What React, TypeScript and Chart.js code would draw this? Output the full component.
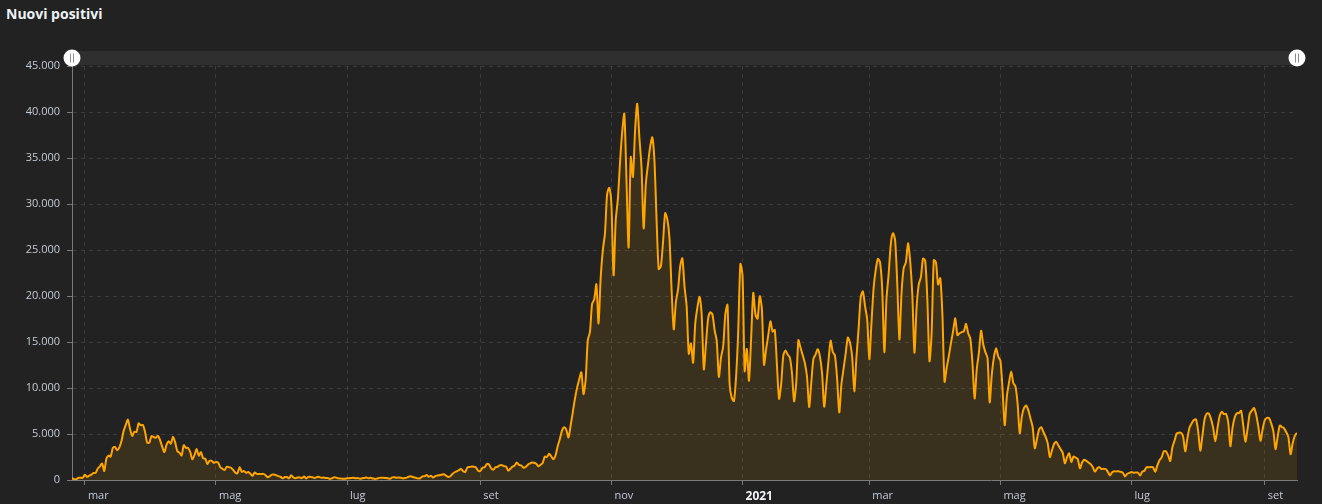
import React, { useEffect, useRef } from "react";
import { Chart, registerables } from "chart.js";

Chart.register(...registerables);

// Daily "nuovi positivi", one value per day from 24 Feb 2020 to 16 Sep 2021
const feb2020 = [221, 93, 78, 250, 238, 240];
const mar2020 = [566, 342, 466, 587, 769, 778, 1247, 1492, 1797, 977, 2313, 2651, 2547, 3497, 3590, 3233, 3526, 4207, 5322, 5986, 6557, 5560, 4789, 5249, 5210, 6153, 5959, 5974, 5217, 4050, 4053];
const apr2020 = [4782, 4668, 4585, 4805, 4316, 3599, 3039, 3836, 4204, 3951, 4694, 4092, 3153, 2972, 2667, 3786, 3493, 3491, 3047, 2256, 2729, 3370, 2646, 3021, 2357, 2324, 1739, 2091, 2086, 1872];
const may2020 = [1965, 1900, 1389, 1221, 1075, 1444, 1401, 1327, 1083, 802, 744, 1402, 888, 992, 789, 875, 675, 451, 813, 665, 642, 652, 669, 531, 300, 397, 584, 593, 516, 416, 355];
const jun2020 = [178, 318, 321, 177, 518, 270, 197, 280, 283, 202, 379, 163, 346, 338, 301, 210, 329, 333, 251, 262, 224, 218, 122, 190, 296, 259, 175, 174, 126, 142];
const jul2020 = [187, 201, 223, 235, 192, 208, 138, 193, 229, 276, 188, 234, 169, 114, 162, 230, 233, 249, 219, 190, 129, 282, 306, 252, 275, 255, 170, 212, 289, 386, 379];
const aug2020 = [295, 239, 159, 190, 384, 402, 552, 347, 463, 259, 412, 481, 523, 574, 629, 479, 320, 403, 642, 845, 947, 1071, 1210, 953, 878, 1367, 1411, 1462, 1444, 1365, 996];
const sep2020 = [978, 1326, 1397, 1733, 1695, 1297, 1108, 1370, 1434, 1597, 1616, 1501, 1458, 1008, 1229, 1452, 1585, 1907, 1638, 1587, 1350, 1392, 1640, 1786, 1912, 1869, 1766, 1494, 1648, 1851];
const oct2020 = [2548, 2499, 2844, 2578, 2257, 2677, 3678, 4458, 5372, 5724, 5456, 4619, 5901, 7332, 8804, 10010, 10925, 11705, 9338, 10874, 15199, 16079, 19143, 19644, 21273, 17012, 21994, 24991, 26831, 31084, 31756];
const nov2020 = [29907, 22253, 28244, 30550, 34505, 37809, 39811, 32616, 25271, 35098, 32961, 37978, 40902, 37255, 33979, 27354, 32191, 34283, 36176, 37242, 34767, 28337, 22930, 23232, 25853, 29003, 28352, 26323, 20648, 16377];
const dec2020 = [19350, 20709, 23225, 24099, 21052, 18887, 13720, 14842, 12756, 16999, 18727, 19903, 17938, 12030, 14844, 17572, 18236, 17992, 16308, 15104, 11210, 13318, 14522, 18040, 19037, 10407, 8913, 8585, 11212, 16202, 23477];
const jan2021 = [22211, 11831, 14245, 10800, 15378, 20331, 18020, 17533, 19978, 18627, 12532, 14242, 15774, 17246, 16146, 16310, 12545, 8824, 10497, 13571, 14078, 13633, 13331, 11629, 8561, 10593, 15204, 14372, 13574, 12715, 11252];
const feb2021 = [7925, 10630, 13189, 13659, 14218, 13442, 11641, 7970, 10404, 12956, 15146, 13908, 13532, 11068, 7351, 10386, 12074, 13762, 15479, 14931, 13452, 9630, 13314, 16424, 19886, 20499, 18916, 17455];
const mar2021 = [13114, 17083, 20884, 22865, 24036, 23641, 20765, 13902, 19749, 22409, 25673, 26824, 26062, 21315, 15267, 20396, 23059, 23649, 25735, 23832, 20159, 13846, 18765, 21267, 22057, 24076, 23839, 19611, 12916, 16017, 23904];
const apr2021 = [23649, 21261, 21932, 18025, 10680, 12200, 13500, 14900, 16200, 17567, 15746, 15950, 16080, 16168, 16974, 15943, 15370, 12694, 8864, 12074, 13844, 16232, 14761, 13900, 13250, 8444, 11500, 13385, 14320, 13400];
const may2021 = [12965, 9800, 5948, 9116, 10585, 11807, 10554, 10176, 8292, 5080, 6946, 7852, 8085, 7567, 6659, 5753, 3455, 4452, 5506, 5741, 5218, 4717, 3995, 2490, 3224, 3937, 4147, 3738, 3351, 2949, 1820];
const jun2021 = [2483, 2897, 1968, 2557, 2436, 2275, 1273, 1896, 2199, 2079, 1901, 1723, 1390, 907, 1255, 1400, 1197, 1229, 1197, 881, 495, 835, 945, 927, 952, 880, 778, 389, 679, 776];
const jul2021 = [882, 794, 808, 812, 480, 907, 1010, 1394, 1390, 1400, 1391, 888, 1553, 2153, 2455, 3127, 3121, 2700, 2072, 3558, 4259, 5057, 5143, 5140, 4743, 3117, 4522, 5696, 6171, 6513, 6599];
const aug2021 = [5321, 3190, 4845, 6596, 7230, 7221, 6619, 5664, 4197, 5636, 6968, 7409, 7162, 7188, 6275, 3677, 5676, 6800, 7260, 7280, 7530, 5900, 4168, 5559, 7200, 7548, 7826, 7100, 5800, 4257, 5498];
const sep2021 = [6503, 6761, 6735, 6157, 5315, 3361, 4720, 5923, 5754, 5621, 5193, 4664, 2800, 4021, 4830, 5117];

// Axis ticks: day index (0 = 24 Feb 2020) of each labelled month start
const monthTickDays = [6, 67, 128, 190, 251, 312, 371, 432, 493, 555];
const monthTickLabels = ["mar", "mag", "lug", "set", "nov", "2021", "mar", "mag", "lug", "set"];
const yMax = 45000;
const yStep = 5000;

const series = [
  ...feb2020, ...mar2020, ...apr2020, ...may2020, ...jun2020, ...jul2020,
  ...aug2020, ...sep2020, ...oct2020, ...nov2020, ...dec2020,
  ...jan2021, ...feb2021, ...mar2021, ...apr2021, ...may2021, ...jun2021,
  ...jul2021, ...aug2021, ...sep2021,
];

const fmt = (v: number) => String(Math.round(v)).replace(/\B(?=(\d{3})+(?!\d))/g, ".");

const scrollbarPlugin = {
  id: "scrollbar",
  beforeDraw(chart: any) {
    const { ctx, chartArea } = chart;
    ctx.save();
    ctx.fillStyle = "#2f2f2f";
    ctx.fillRect(chartArea.left, 51, chartArea.right - chartArea.left, 14);
    ctx.restore();
  },
  afterDraw(chart: any) {
    const { ctx, chartArea } = chart;
    const cy = 58;
    [chartArea.left, chartArea.right].forEach((cx: number) => {
      ctx.save();
      ctx.beginPath();
      ctx.arc(cx, cy, 8.5, 0, Math.PI * 2);
      ctx.fillStyle = "#ffffff";
      ctx.fill();
      ctx.strokeStyle = "#8a8a8a";
      ctx.lineWidth = 1;
      ctx.beginPath();
      ctx.moveTo(cx - 1.5, cy - 4.5);
      ctx.lineTo(cx - 1.5, cy + 4.5);
      ctx.moveTo(cx + 1.5, cy - 4.5);
      ctx.lineTo(cx + 1.5, cy + 4.5);
      ctx.stroke();
      ctx.restore();
    });
  },
};

export default function App() {
  const canvasRef = useRef<HTMLCanvasElement | null>(null);

  useEffect(() => {
    if (!canvasRef.current) return;
    Chart.defaults.font.family = "'Open Sans', 'Noto Sans', sans-serif";
    const points = series.map((v, i) => ({ x: i, y: v }));
    const chart = new Chart(canvasRef.current, {
      type: "line",
      data: {
        datasets: [
          {
            label: "Nuovi positivi",
            data: points,
            borderColor: "#ffa500",
            backgroundColor: "rgba(255,165,0,0.11)",
            borderWidth: 2,
            pointRadius: 0,
            tension: 0.25,
            fill: "start",
          },
        ],
      },
      options: {
        animation: false,
        responsive: false,
        events: [],
        layout: { padding: { left: 0, right: 25, top: 66, bottom: 0 } },
        plugins: {
          legend: { display: false },
          tooltip: { enabled: false },
          title: { display: false },
        },
        scales: {
          x: {
            type: "linear",
            min: 0,
            max: series.length - 1,
            afterFit: (scale: any) => {
              scale.height = 24;
            },
            afterBuildTicks: (scale: any) => {
              scale.ticks = monthTickDays.map((d) => ({ value: d }));
            },
            ticks: {
              autoSkip: false,
              maxRotation: 0,
              align: "start",
              labelOffset: 3,
              padding: 4,
              callback: (value: any) => {
                const i = monthTickDays.indexOf(Number(value));
                return i >= 0 ? monthTickLabels[i] : "";
              },
              color: (ctx: any) =>
                ctx.tick && ctx.tick.value === 312 ? "#f2f4f7" : "#c3cbd4",
              font: (ctx: any) =>
                ctx.tick && ctx.tick.value === 312
                  ? { size: 12, weight: "bold" }
                  : { size: 11 },
            },
            grid: {
              color: "#3b3b3b",
              lineWidth: 1,
              tickLength: 5,
              tickColor: "#7a7a7a",
              tickBorderDash: [],
            },
            border: { display: true, color: "#7a7a7a", width: 1, dash: [4, 4] },
          },
          y: {
            min: 0,
            max: yMax,
            afterFit: (scale: any) => {
              scale.width = 72;
            },
            ticks: {
              stepSize: yStep,
              padding: 7,
              color: "#c3cbd4",
              font: { size: 11 },
              callback: (value: any) => fmt(Number(value)),
            },
            grid: {
              color: "#3b3b3b",
              lineWidth: 1,
              tickLength: 5,
              tickColor: "#7a7a7a",
              tickBorderDash: [],
            },
            border: { display: true, color: "#7a7a7a", width: 1, dash: [4, 4] },
          },
        },
      },
      plugins: [scrollbarPlugin],
    } as any);
    return () => chart.destroy();
  }, []);

  return (
    <div
      style={{
        position: "fixed",
        left: 0,
        top: 0,
        width: 1322,
        height: 504,
        background: "#222222",
        overflow: "hidden",
      }}
    >
      <div
        style={{
          position: "absolute",
          left: 6,
          top: 4,
          fontFamily: "'Open Sans', 'Noto Sans', sans-serif",
          fontWeight: 700,
          fontSize: 14,
          lineHeight: "19px",
          color: "#eef2f6",
        }}
      >
        Nuovi positivi
      </div>
      <canvas
        ref={canvasRef}
        width={1322}
        height={504}
        style={{ position: "absolute", left: 0, top: 0, width: 1322, height: 504 }}
      />
    </div>
  );
}
